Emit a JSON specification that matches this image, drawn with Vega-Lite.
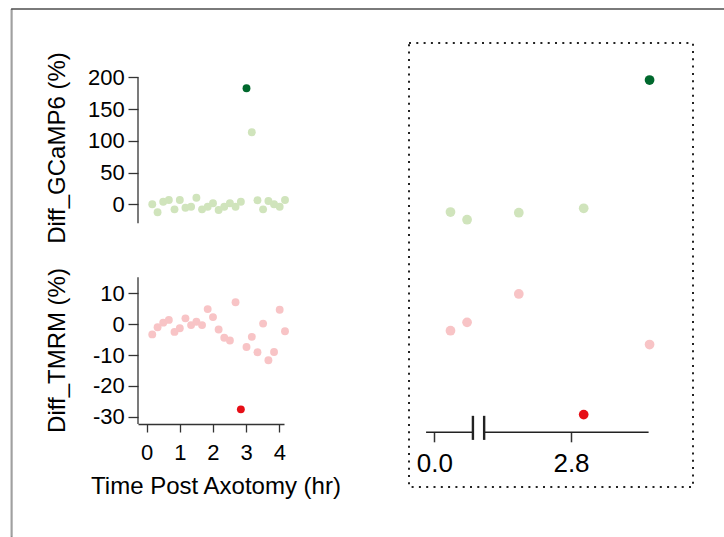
{
  "$schema": "https://vega.github.io/schema/vega-lite/v6.json",
  "autosize": "none",
  "padding": {"left": 11, "top": 8, "right": 713, "bottom": 529},
  "background": "white",
  "config": {
    "view": {"stroke": null},
    "font": "Liberation Sans",
    "axis": {
      "labelFont": "Liberation Sans", "titleFont": "Liberation Sans",
      "labelColor": "#000", "titleColor": "#000",
      "domainColor": "#333", "tickColor": "#333",
      "domainWidth": 1.3, "tickWidth": 1.3,
      "titleFontWeight": "normal", "grid": false,
      "labelFontSize": 22, "titleFontSize": 24, "labelFlush": false
    }
  },
  "datasets": {
    "gcamp": [
      {"t": 0.17, "v": 0, "hl": "n"}, {"t": 0.33, "v": -12.6, "hl": "n"}, {"t": 0.5, "v": 4.1, "hl": "n"},
      {"t": 0.67, "v": 6.8, "hl": "n"}, {"t": 0.84, "v": -7.9, "hl": "n"}, {"t": 1.0, "v": 6.8, "hl": "n"},
      {"t": 1.17, "v": -5.4, "hl": "n"}, {"t": 1.34, "v": -3.8, "hl": "n"}, {"t": 1.5, "v": 10.4, "hl": "n"},
      {"t": 1.67, "v": -7.9, "hl": "n"}, {"t": 1.84, "v": -3.8, "hl": "n"}, {"t": 2.0, "v": 1.6, "hl": "n"},
      {"t": 2.17, "v": -9.0, "hl": "n"}, {"t": 2.34, "v": -3.8, "hl": "n"}, {"t": 2.51, "v": 1.6, "hl": "n"},
      {"t": 2.68, "v": -3.8, "hl": "n"}, {"t": 2.84, "v": 4.1, "hl": "n"}, {"t": 3.17, "v": 113.4, "hl": "n"},
      {"t": 3.34, "v": 6.3, "hl": "n"}, {"t": 3.51, "v": -7.9, "hl": "n"}, {"t": 3.67, "v": 5.2, "hl": "n"},
      {"t": 3.84, "v": 0, "hl": "n"}, {"t": 4.01, "v": -3.8, "hl": "n"}, {"t": 4.17, "v": 6.8, "hl": "n"},
      {"t": 3.01, "v": 182.7, "hl": "y"}
    ],
    "tmrm": [
      {"t": 0.17, "v": -3.3, "hl": "n"}, {"t": 0.33, "v": -1.0, "hl": "n"}, {"t": 0.5, "v": 0.5, "hl": "n"},
      {"t": 0.67, "v": 1.4, "hl": "n"}, {"t": 0.84, "v": -2.5, "hl": "n"}, {"t": 1.0, "v": -1.3, "hl": "n"},
      {"t": 1.17, "v": 1.9, "hl": "n"}, {"t": 1.34, "v": -0.3, "hl": "n"}, {"t": 1.5, "v": 0.8, "hl": "n"},
      {"t": 1.67, "v": -0.3, "hl": "n"}, {"t": 1.84, "v": 4.9, "hl": "n"}, {"t": 2.0, "v": 2.3, "hl": "n"},
      {"t": 2.17, "v": -1.7, "hl": "n"}, {"t": 2.34, "v": -4.4, "hl": "n"}, {"t": 2.51, "v": -5.3, "hl": "n"},
      {"t": 2.68, "v": 7.1, "hl": "n"}, {"t": 3.01, "v": -7.4, "hl": "n"}, {"t": 3.17, "v": -4.1, "hl": "n"},
      {"t": 3.34, "v": -9.1, "hl": "n"}, {"t": 3.51, "v": 0.2, "hl": "n"}, {"t": 3.67, "v": -11.7, "hl": "n"},
      {"t": 3.84, "v": -9.0, "hl": "n"}, {"t": 4.01, "v": 4.7, "hl": "n"}, {"t": 4.17, "v": -2.3, "hl": "n"},
      {"t": 2.84, "v": -27.6, "hl": "y"}
    ],
    "rgcamp": [
      {"t": 0.33, "v": -7.9, "hl": "n"}, {"t": 0.67, "v": -20, "hl": "n"}, {"t": 1.73, "v": -9.0, "hl": "n"},
      {"t": 3.06, "v": -2.0, "hl": "n"}, {"t": 4.41, "v": 200, "hl": "y"}
    ],
    "rtmrm": [
      {"t": 0.33, "v": -2.1, "hl": "n"}, {"t": 0.67, "v": 0.6, "hl": "n"}, {"t": 1.73, "v": 9.8, "hl": "n"},
      {"t": 4.41, "v": -6.6, "hl": "n"}, {"t": 3.06, "v": -29.3, "hl": "y"}
    ]
  },
  "bounds": "flush",
  "spacing": 0,
  "vconcat": [
    {
      "width": 713, "height": 1,
      "view": {"stroke": "#7a7a7a", "strokeWidth": 1},
      "data": {"values": [{}]},
      "mark": {"type": "rule", "opacity": 0},
      "encoding": {}
    },
    {
      "bounds": "flush",
      "spacing": 126,
      "hconcat": [
        {
          "width": 1, "height": 528,
          "view": {"stroke": "#444", "strokeWidth": 0.6},
          "data": {"values": [{}]},
          "mark": {"type": "rule", "opacity": 0},
          "encoding": {}
        },
        {
          "bounds": "flush",
          "spacing": 125,
          "hconcat": [
            {
              "width": 146, "height": 415,
              "resolve": {"scale": {"y": "independent"}},
              "layer": [
                {
                  "layer": [
                    {"data": {"name": "gcamp"},
                     "mark": {"type": "circle", "size": 62, "opacity": 1},
                     "encoding": {
                       "x": {"field": "t", "type": "quantitative", "scale": {"domain": [-0.26, 4.14], "nice": false, "zero": false},
                             "axis": {"values": [0, 1, 2, 3, 4], "tickSize": 8, "labelPadding": 27, "labelBaseline": "alphabetic",
                                      "title": "Time Post Axotomy (hr)", "titleBaseline": "alphabetic", "titleY": 69.5, "titleX": 77.5}},
                       "y": {"field": "v", "type": "quantitative", "scale": {"domain": [-346.0, 307.6], "nice": false, "zero": false},
                             "axis": {"orient": "left", "values": [0, 50, 100, 150, 200], "domain": false, "tickSize": 10, "labelPadding": 3.7,
                                      "title": "Diff_GCaMP6 (%)", "titleX": -74, "titleY": 138.5, "titleBaseline": "alphabetic"}},
                       "color": {"condition": {"test": "datum.hl === 'y'", "value": "#00682d"}, "value": "#d0e4bc"}
                     }},
                    {"data": {"values": [{}]},
                     "mark": {"type": "rule", "color": "#333", "strokeWidth": 1.3},
                     "encoding": {
                       "x": {"datum": -0.26, "type": "quantitative", "scale": {"domain": [-0.26, 4.14], "nice": false, "zero": false},
                             "axis": {"values": [0, 1, 2, 3, 4], "tickSize": 8, "labelPadding": 27, "labelBaseline": "alphabetic",
                                      "title": "Time Post Axotomy (hr)", "titleBaseline": "alphabetic", "titleY": 69.5, "titleX": 77.5}},
                       "y": {"datum": -30, "type": "quantitative", "scale": {"domain": [-346.0, 307.6], "nice": false, "zero": false},
                             "axis": {"orient": "left", "values": [0, 50, 100, 150, 200], "domain": false, "tickSize": 10, "labelPadding": 3.7,
                                      "title": "Diff_GCaMP6 (%)", "titleX": -74, "titleY": 138.5, "titleBaseline": "alphabetic"}},
                       "y2": {"datum": 200}
                     }}
                  ]
                },
                {
                  "layer": [
                    {"data": {"name": "tmrm"},
                     "mark": {"type": "circle", "size": 62, "opacity": 1},
                     "encoding": {
                       "x": {"field": "t", "type": "quantitative", "scale": {"domain": [-0.26, 4.14], "nice": false, "zero": false},
                             "axis": {"values": [0, 1, 2, 3, 4], "tickSize": 8, "labelPadding": 27, "labelBaseline": "alphabetic",
                                      "title": "Time Post Axotomy (hr)", "titleBaseline": "alphabetic", "titleY": 69.5, "titleX": 77.5}},
                       "y": {"field": "v", "type": "quantitative", "scale": {"domain": [-32.35, 102.17], "nice": false, "zero": false},
                             "axis": {"orient": "left", "values": [-30, -20, -10, 0, 10], "domain": false, "tickSize": 10, "labelPadding": 3.7,
                                      "labelExpr": "datum.value < 0 ? '-' + abs(datum.value) : '' + datum.value",
                                      "title": "Diff_TMRM (%)", "titleX": -74, "titleY": 341, "titleBaseline": "alphabetic"}},
                       "color": {"condition": {"test": "datum.hl === 'y'", "value": "#e60e16"}, "value": "#f8c4c6"}
                     }},
                    {"data": {"values": [{}]},
                     "mark": {"type": "rule", "color": "#333", "strokeWidth": 1.3},
                     "encoding": {
                       "x": {"datum": -0.26, "type": "quantitative", "scale": {"domain": [-0.26, 4.14], "nice": false, "zero": false},
                             "axis": {"values": [0, 1, 2, 3, 4], "tickSize": 8, "labelPadding": 27, "labelBaseline": "alphabetic",
                                      "title": "Time Post Axotomy (hr)", "titleBaseline": "alphabetic", "titleY": 69.5, "titleX": 77.5}},
                       "y": {"datum": -32.35, "type": "quantitative", "scale": {"domain": [-32.35, 102.17], "nice": false, "zero": false},
                             "axis": {"orient": "left", "values": [-30, -20, -10, 0, 10], "domain": false, "tickSize": 10, "labelPadding": 3.7,
                                      "labelExpr": "datum.value < 0 ? '-' + abs(datum.value) : '' + datum.value",
                                      "title": "Diff_TMRM (%)", "titleX": -74, "titleY": 341, "titleBaseline": "alphabetic"}},
                       "y2": {"datum": 15.2}
                     }}
                  ]
                }
              ]
            },
            {
              "bounds": "flush",
              "spacing": 33,
              "vconcat": [
                {
                  "width": 284, "height": 1,
                  "data": {"values": [{}]},
                  "mark": {"type": "rule", "opacity": 0},
                  "encoding": {}
                },
                {
                  "width": 284, "height": 444,
                  "view": {"stroke": "#222", "strokeWidth": 2, "strokeDash": [2, 5.3]},
                  "resolve": {"scale": {"y": "independent"}},
                  "layer": [
                    {"data": {"name": "rgcamp"},
                     "mark": {"type": "circle", "size": 95, "opacity": 1},
                     "encoding": {
                       "x": {"field": "t", "type": "quantitative", "scale": {"domain": [-0.52, 5.3], "nice": false, "zero": false},
                             "axis": {"values": [0, 2.8], "format": ".1f", "offset": -54.7, "domain": false, "tickSize": 9.5,
                                      "tickWidth": 1.5, "labelFontSize": 26, "labelBaseline": "alphabetic", "labelPadding": 29.2, "title": null}},
                       "y": {"field": "v", "type": "quantitative", "scale": {"domain": [-440.9, 258.3], "nice": false, "zero": false}, "axis": null},
                       "color": {"condition": {"test": "datum.hl === 'y'", "value": "#00682d"}, "value": "#d0e4bc"}
                     }},
                    {
                      "layer": [
                        {"data": {"name": "rtmrm"},
                         "mark": {"type": "circle", "size": 95, "opacity": 1},
                         "encoding": {
                           "x": {"field": "t", "type": "quantitative", "scale": {"domain": [-0.52, 5.3], "nice": false, "zero": false},
                                 "axis": {"values": [0, 2.8], "format": ".1f", "offset": -54.7, "domain": false, "tickSize": 9.5,
                                          "tickWidth": 1.5, "labelFontSize": 26, "labelBaseline": "alphabetic", "labelPadding": 29.2, "title": null}},
                           "y": {"field": "v", "type": "quantitative", "scale": {"domain": [-52.77, 91.15], "nice": false, "zero": false}, "axis": null},
                           "color": {"condition": {"test": "datum.hl === 'y'", "value": "#e60e16"}, "value": "#f8c4c6"}
                         }},
                        {"data": {"values": [{}]},
                         "mark": {"type": "rule", "color": "#222", "strokeWidth": 1.4},
                         "encoding": {
                           "x": {"datum": -0.17, "type": "quantitative", "scale": {"domain": [-0.52, 5.3], "nice": false, "zero": false},
                                 "axis": {"values": [0, 2.8], "format": ".1f", "offset": -54.7, "domain": false, "tickSize": 9.5,
                                          "tickWidth": 1.5, "labelFontSize": 26, "labelBaseline": "alphabetic", "labelPadding": 29.2, "title": null}},
                           "x2": {"datum": 0.79},
                           "y": {"datum": -35, "type": "quantitative", "scale": {"domain": [-52.77, 91.15], "nice": false, "zero": false}, "axis": null}
                         }},
                        {"data": {"values": [{}]},
                         "mark": {"type": "rule", "color": "#222", "strokeWidth": 1.4},
                         "encoding": {
                           "x": {"datum": 1.02, "type": "quantitative", "scale": {"domain": [-0.52, 5.3], "nice": false, "zero": false},
                                 "axis": {"values": [0, 2.8], "format": ".1f", "offset": -54.7, "domain": false, "tickSize": 9.5,
                                          "tickWidth": 1.5, "labelFontSize": 26, "labelBaseline": "alphabetic", "labelPadding": 29.2, "title": null}},
                           "x2": {"datum": 4.39},
                           "y": {"datum": -35, "type": "quantitative", "scale": {"domain": [-52.77, 91.15], "nice": false, "zero": false}, "axis": null}
                         }},
                        {"data": {"values": [{}]},
                         "mark": {"type": "rule", "color": "#222", "strokeWidth": 2.4},
                         "encoding": {
                           "x": {"datum": 0.79, "type": "quantitative", "scale": {"domain": [-0.52, 5.3], "nice": false, "zero": false},
                                 "axis": {"values": [0, 2.8], "format": ".1f", "offset": -54.7, "domain": false, "tickSize": 9.5,
                                          "tickWidth": 1.5, "labelFontSize": 26, "labelBaseline": "alphabetic", "labelPadding": 29.2, "title": null}},
                           "y": {"datum": -29.7, "type": "quantitative", "scale": {"domain": [-52.77, 91.15], "nice": false, "zero": false}, "axis": null},
                           "y2": {"datum": -37.5}
                         }},
                        {"data": {"values": [{}]},
                         "mark": {"type": "rule", "color": "#222", "strokeWidth": 2.4},
                         "encoding": {
                           "x": {"datum": 1.02, "type": "quantitative", "scale": {"domain": [-0.52, 5.3], "nice": false, "zero": false},
                                 "axis": {"values": [0, 2.8], "format": ".1f", "offset": -54.7, "domain": false, "tickSize": 9.5,
                                          "tickWidth": 1.5, "labelFontSize": 26, "labelBaseline": "alphabetic", "labelPadding": 29.2, "title": null}},
                           "y": {"datum": -29.7, "type": "quantitative", "scale": {"domain": [-52.77, 91.15], "nice": false, "zero": false}, "axis": null},
                           "y2": {"datum": -37.5}
                         }}
                      ]
                    }
                  ]
                }
              ]
            }
          ]
        }
      ]
    }
  ]
}
